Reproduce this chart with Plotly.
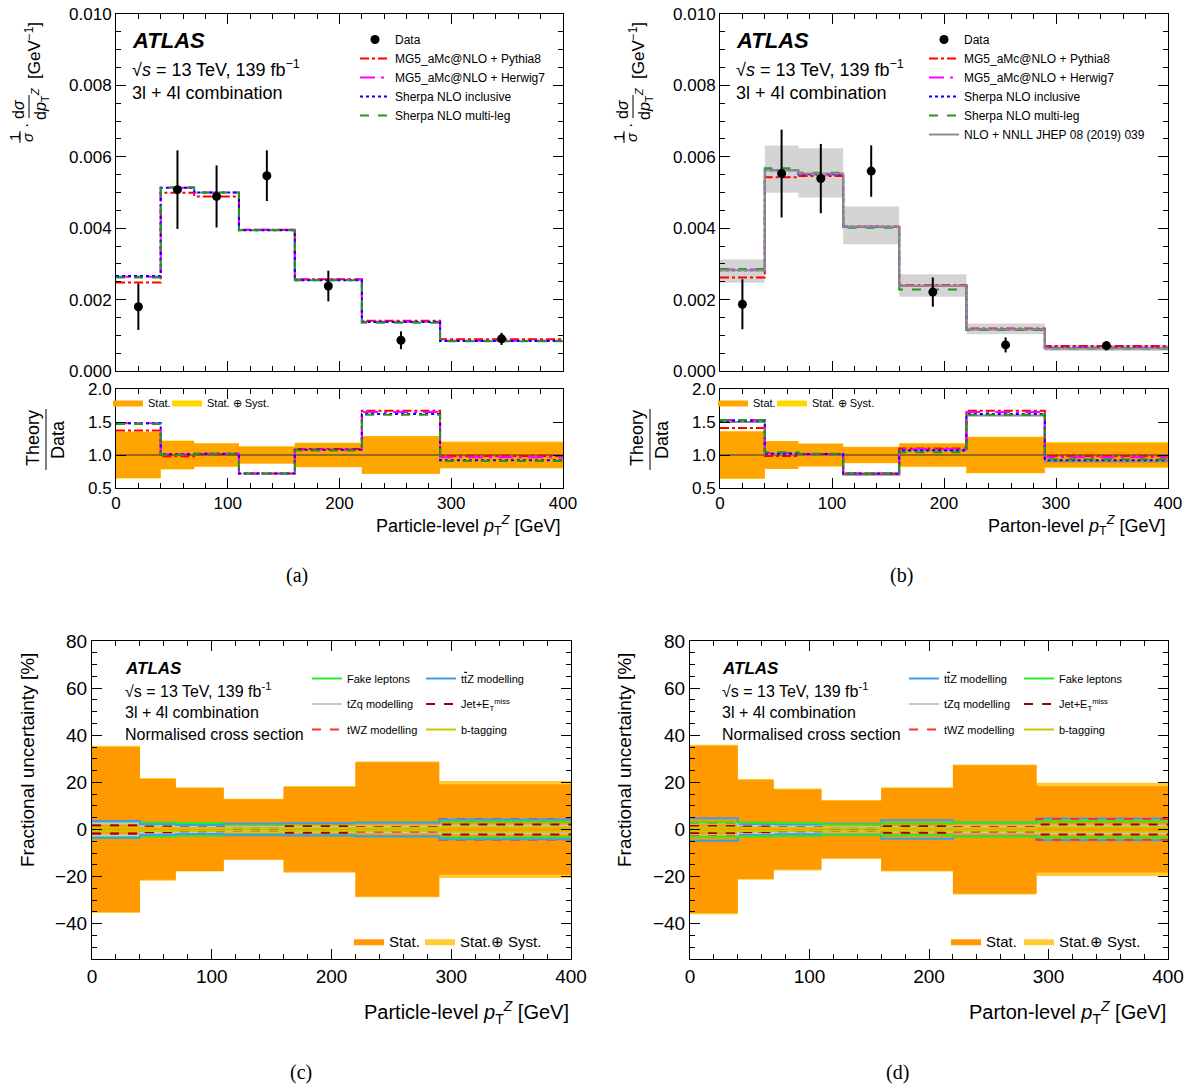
import plotly.graph_objects as go

# the figure fills the whole 1188x1085 page (body margin removed in the page script below)
W, H = 1188, 1085
FONT = "Liberation Sans"

# ---------------- data ----------------
edges = [0, 40, 70, 110, 160, 220, 290, 400]
centers = [20, 55, 90, 135, 190, 255, 345]

# (a) particle level, normalised differential cross-section [GeV^-1]
data_a = [0.00180, 0.00508, 0.00489, 0.00547, 0.00238, 0.00086, 0.00090]
err_a = [0.00065, 0.00110, 0.00087, 0.00071, 0.00043, 0.00025, 0.00017]
py8_a = [0.00248, 0.00499, 0.00489, 0.00396, 0.00257, 0.00141, 0.00089]
hw7_a = [0.00264, 0.00513, 0.00500, 0.00396, 0.00256, 0.00138, 0.00085]
shinc_a = [0.00266, 0.00513, 0.00500, 0.00394, 0.00254, 0.00137, 0.00084]
shml_a = [0.00262, 0.00515, 0.00500, 0.00394, 0.00254, 0.00135, 0.00083]
r_py8_a = [1.37, 0.98, 1.01, 0.72, 1.09, 1.67, 0.985]
r_hw7_a = [1.48, 1.01, 1.02, 0.72, 1.08, 1.65, 0.965]
r_shinc_a = [1.48, 1.01, 1.02, 0.72, 1.08, 1.62, 0.92]
r_shml_a = [1.47, 1.00, 1.02, 0.72, 1.07, 1.61, 0.91]

# (b) parton level
data_b = [0.00187, 0.00553, 0.00539, 0.00560, 0.00221, 0.00073, 0.00071]
err_b = [0.00070, 0.00123, 0.00097, 0.00072, 0.00041, 0.00021, 0.00013]
py8_b = [0.00262, 0.00543, 0.00546, 0.00404, 0.00240, 0.00119, 0.00070]
hw7_b = [0.00284, 0.00562, 0.00551, 0.00404, 0.00239, 0.00117, 0.00066]
shinc_b = [0.00282, 0.00562, 0.00551, 0.00404, 0.00238, 0.00117, 0.00065]
shml_b = [0.00286, 0.00568, 0.00555, 0.00401, 0.00228, 0.00115, 0.00063]
nnll_b = [0.00282, 0.00562, 0.00553, 0.00404, 0.00238, 0.00117, 0.00063]
nnll_up_b = [0.00312, 0.00632, 0.00624, 0.00461, 0.00271, 0.00133, 0.00073]
nnll_dn_b = [0.00247, 0.00499, 0.00486, 0.00355, 0.00208, 0.00103, 0.00056]
r_py8_b = [1.41, 0.985, 1.015, 0.72, 1.10, 1.67, 0.985]
r_hw7_b = [1.53, 1.03, 1.015, 0.72, 1.09, 1.65, 0.965]
r_shinc_b = [1.52, 1.02, 1.015, 0.72, 1.07, 1.62, 0.92]
r_shml_b = [1.53, 1.04, 1.02, 0.72, 1.04, 1.61, 0.935]
r_nnll_b = [1.50, 1.015, 1.01, 0.70, 1.075, 1.60, 0.90]

# (c) particle level fractional uncertainties [%]
stat_c = [35.0, 21.4, 17.6, 12.8, 18.0, 28.5, 19.2]
tot_c = [35.5, 21.8, 17.9, 13.0, 18.4, 28.8, 20.6]
fake_c = [3.2, 3.0, 2.7, 2.1, 2.5, 3.0, 3.4]
ttz_c = [3.6, 2.2, 1.9, 2.5, 2.6, 2.9, 4.2]
tzq_c = [2.5, 1.5, 1.2, 0.9, 1.0, 1.2, 1.6]
jet_c = [1.6, 1.2, 0.8, 0.4, 1.4, 0.8, 2.1]
twz_c = [1.9, 1.0, 0.6, 0.3, 0.6, 0.9, 4.4]
btag_c = [0.8, 0.7, 0.6, 0.5, 0.6, 0.6, 1.0]

# (d) parton level fractional uncertainties [%]
stat_d = [35.5, 21.0, 17.0, 12.2, 17.5, 27.3, 18.3]
tot_d = [36.0, 21.4, 17.4, 12.5, 17.9, 27.6, 19.8]
ttz_d = [4.8, 2.2, 1.9, 2.4, 3.9, 2.9, 4.6]
fake_d = [3.0, 3.0, 2.8, 2.1, 2.5, 3.0, 3.4]
tzq_d = [2.6, 1.5, 1.2, 0.9, 1.0, 1.2, 1.6]
jet_d = [1.5, 1.2, 0.8, 0.4, 1.4, 0.8, 2.1]
twz_d = [2.8, 1.0, 0.6, 0.3, 0.9, 0.9, 4.4]
btag_d = [0.8, 0.7, 0.6, 0.5, 0.6, 0.6, 1.0]

# ---------------- helpers ----------------
def px(x):
    return x / W


def py(y):
    return 1 - y / H


def stepy(vals):
    return list(vals) + [vals[-1]]


fig = go.Figure()


def step_line(vals, xa, ya, color, dash, name=None, legend=None, width=2, rank=None):
    fig.add_trace(go.Scatter(
        x=edges, y=stepy(vals), mode="lines", line=dict(color=color, dash=dash, width=width, shape="hv"),
        xaxis=xa, yaxis=ya, name=name, showlegend=name is not None,
        legend=legend, legendrank=rank if rank else 1000, hoverinfo="skip"))


def band(lo, hi, xa, ya, color, name=None, legend=None, rank=None):
    fig.add_trace(go.Scatter(
        x=edges, y=stepy(lo), mode="lines", line=dict(width=0, shape="hv"),
        xaxis=xa, yaxis=ya, showlegend=False, hoverinfo="skip"))
    fig.add_trace(go.Scatter(
        x=edges, y=stepy(hi), mode="lines", line=dict(width=0, shape="hv"),
        fill="tonexty", fillcolor=color, xaxis=xa, yaxis=ya,
        name=name, showlegend=name is not None, legend=legend,
        legendrank=rank if rank else 1000, hoverinfo="skip"))


C_PY8, C_HW7, C_SHI, C_SHM = "#ff0000", "#ff00ff", "#0000ff", "#1f9a1f"


def top_panel(xm, ym, xr, yr, data, err, py8, hw7, shi, shm, rpy8, rhw7, rshi, rshm,
              stat, tot, leg, leg_stat, leg_tot, nnll=None, nnll_up=None, nnll_dn=None, rnnll=None):
    if nnll is not None:
        band(nnll_dn, nnll_up, xm, ym, "rgba(205,205,205,0.85)")
    step_line(py8, xm, ym, C_PY8, "dashdot", "MG5_aMc@NLO + Pythia8", leg, rank=2)
    step_line(hw7, xm, ym, C_HW7, "longdashdot", "MG5_aMc@NLO + Herwig7", leg, rank=3)
    step_line(shi, xm, ym, C_SHI, "dot", "Sherpa NLO inclusive", leg, rank=4)
    step_line(shm, xm, ym, C_SHM, "dash", "Sherpa NLO multi-leg", leg, rank=5)
    if nnll is not None:
        step_line(nnll, xm, ym, "#8c8c8c", "solid", "NLO + NNLL JHEP 08 (2019) 039", leg, rank=6)
    fig.add_trace(go.Scatter(
        x=centers, y=data, mode="markers", marker=dict(color="black", size=9),
        error_y=dict(type="data", array=err, color="black", thickness=2, width=0),
        xaxis=xm, yaxis=ym, name="Data", legend=leg, legendrank=1, hoverinfo="skip"))
    band([1 - v / 100 for v in tot], [1 + v / 100 for v in tot], xr, yr, "#ffd700",
         "Stat. \u2295 Syst.", leg_tot)
    band([1 - v / 100 for v in stat], [1 + v / 100 for v in stat], xr, yr, "#ffa500",
         "Stat.", leg_stat)
    fig.add_trace(go.Scatter(x=[0, 400], y=[1, 1], mode="lines", line=dict(color="#333333", width=1.2),
                             xaxis=xr, yaxis=yr, showlegend=False, hoverinfo="skip"))
    if rnnll is not None:
        step_line(rnnll, xr, yr, "#8c8c8c", "solid")
    step_line(rpy8, xr, yr, C_PY8, "dashdot")
    step_line(rhw7, xr, yr, C_HW7, "longdashdot")
    step_line(rshi, xr, yr, C_SHI, "dot")
    step_line(rshm, xr, yr, C_SHM, "dash")


top_panel("x", "y", "x2", "y2", data_a, err_a, py8_a, hw7_a, shinc_a, shml_a,
          r_py8_a, r_hw7_a, r_shinc_a, r_shml_a, stat_c, tot_c, "legend", "legend2", "legend3")
top_panel("x3", "y3", "x4", "y4", data_b, err_b, py8_b, hw7_b, shinc_b, shml_b,
          r_py8_b, r_hw7_b, r_shinc_b, r_shml_b, stat_d, tot_d, "legend4", "legend5", "legend6",
          nnll_b, nnll_up_b, nnll_dn_b, r_nnll_b)

SYS_STYLE = {
    "fake": ("#22ee22", "solid", "Fake leptons"),
    "ttz": ("#3d9df0", "solid", "t<span style='text-decoration:overline'>t</span>Z modelling"),
    "tzq": ("#c8c8c8", "solid", "tZq modelling"),
    "jet": ("#a00000", "dash", "Jet+E<sub>T</sub><sup>miss</sup>"),
    "twz": ("#ff3030", "dash", "tWZ modelling"),
    "btag": ("#c8c800", "solid", "b-tagging"),
}


def unc_panel(xa, ya, stat, tot, sys_list, leg_cols, leg_stat, leg_tot):
    band([-v for v in tot], tot, xa, ya, "#ffcc33", "Stat.\u2295 Syst.", leg_tot)
    band([-v for v in stat], stat, xa, ya, "#ff9900", "Stat.", leg_stat)
    for i, (key, vals) in enumerate(sys_list):
        color, dash, label = SYS_STYLE[key]
        legname = leg_cols[0] if i < 3 else leg_cols[1]
        fig.add_trace(go.Scatter(
            x=edges, y=stepy(vals), mode="lines", line=dict(color=color, dash=dash, width=2, shape="hv"),
            xaxis=xa, yaxis=ya, name=label, legend=legname, legendgroup=key + xa,
            legendrank=i + 1, hoverinfo="skip"))
        fig.add_trace(go.Scatter(
            x=edges, y=stepy([-v for v in vals]), mode="lines",
            line=dict(color=color, dash=dash, width=2, shape="hv"),
            xaxis=xa, yaxis=ya, showlegend=False, legendgroup=key + xa, hoverinfo="skip"))


unc_panel("x5", "y5", stat_c, tot_c,
          [("fake", fake_c), ("tzq", tzq_c), ("twz", twz_c), ("ttz", ttz_c), ("jet", jet_c), ("btag", btag_c)],
          ("legend7", "legend8"), "legend9", "legend10")
unc_panel("x6", "y6", stat_d, tot_d,
          [("ttz", ttz_d), ("tzq", tzq_d), ("twz", twz_d), ("fake", fake_d), ("jet", jet_d), ("btag", btag_d)],
          ("legend11", "legend12"), "legend13", "legend14")


def axis(domain, rng, dtick, minor, anchor, size=17, labels=True, fmt=None):
    d = dict(domain=domain, range=rng, dtick=dtick, tick0=0, anchor=anchor, automargin=False,
             ticklabeloverflow="allow",
             showline=True, linecolor="black", linewidth=1, mirror="allticks",
             ticks="inside", ticklen=10, tickwidth=1, tickcolor="black",
             showgrid=False, zeroline=False, showticklabels=labels,
             tickfont=dict(family=FONT, size=size, color="black"), fixedrange=True)
    if minor:
        d["minor"] = dict(dtick=minor, tick0=0, ticks="inside", ticklen=5, tickcolor="black", showgrid=False)
    if fmt:
        d["tickformat"] = fmt
    return d


XA = [px(116), px(563)]
XB = [px(720), px(1168)]
XC = [px(92), px(571)]
XD = [px(690), px(1168)]
YM = [py(371), py(14)]
YR = [py(488), py(389)]
YC = [py(959), py(641)]

fig.update_layout(
    xaxis=axis(XA, [0, 400], 100, 20, "y", labels=False),
    yaxis=axis(YM, [0, 0.010], 0.002, 0.0005, "x", fmt=".3f"),
    xaxis2=axis(XA, [0, 400], 100, 20, "y2"),
    yaxis2=axis(YR, [0.5, 2.0], 0.5, None, "x2", fmt=".1f"),
    xaxis3=axis(XB, [0, 400], 100, 20, "y3", labels=False),
    yaxis3=axis(YM, [0, 0.010], 0.002, 0.0005, "x3", fmt=".3f"),
    xaxis4=axis(XB, [0, 400], 100, 20, "y4"),
    yaxis4=axis(YR, [0.5, 2.0], 0.5, None, "x4", fmt=".1f"),
    xaxis5=axis(XC, [0, 400], 100, 20, "y5", size=19),
    yaxis5=axis(YC, [-55, 80], 20, 5, "x5", size=19),
    xaxis6=axis(XD, [0, 400], 100, 20, "y6", size=19),
    yaxis6=axis(YC, [-55, 80], 20, 5, "x6", size=19),
)


def legend(x, y, size, gap=0, order="normal"):
    return dict(x=px(x), y=py(y), xanchor="left", yanchor="top", orientation="v",
                bgcolor="rgba(0,0,0,0)", borderwidth=0, tracegroupgap=gap, traceorder=order,
                font=dict(family=FONT, size=size, color="black"), itemclick=False, itemdoubleclick=False)


fig.update_layout(
    showlegend=True,
    legend=legend(355, 25, 12),
    legend2=legend(108, 388, 11),
    legend3=legend(167, 388, 11),
    legend4=legend(924, 25, 12),
    legend5=legend(713, 388, 11),
    legend6=legend(772, 388, 11),
    legend7=legend(307, 664, 11, gap=6.5, order="grouped"),
    legend8=legend(421, 664, 11, gap=6.5, order="grouped"),
    legend9=legend(349, 925, 15),
    legend10=legend(420, 925, 15),
    legend11=legend(904, 664, 11, gap=6.5, order="grouped"),
    legend12=legend(1019, 664, 11, gap=6.5, order="grouped"),
    legend13=legend(946, 925, 15),
    legend14=legend(1019, 925, 15),
)

anns = []


def ann(x, y, text, size, xanchor="left", yanchor="middle", angle=0, family=FONT):
    anns.append(dict(x=px(x), y=py(y), xref="paper", yref="paper", text=text, showarrow=False,
                     xanchor=xanchor, yanchor=yanchor, textangle=angle,
                     font=dict(family=family, size=size, color="black")))


shapes = []


def vbar(x, y0, y1):
    shapes.append(dict(type="line", xref="paper", yref="paper", x0=px(x), x1=px(x), y0=py(y0), y1=py(y1),
                       line=dict(color="black", width=1)))


for dx, lvl in ((0, "Particle"), (604, "Parton")):
    ann(130 + dx, 41, "<b><i>ATLAS</i></b>", 22)
    ann(130 + dx, 68, "\u221A<i>s</i> = 13 TeV, 139 fb<sup>\u22121</sup>", 18)
    ann(130 + dx, 93, "3l + 4l combination", 18)
    ann(33 + dx, 51, "[GeV<sup>\u22121</sup>]", 17, "center", "middle", -90)
    ann(19 + dx, 109, "d<i>\u03c3</i>", 16, "center", "middle", -90)
    ann(40 + dx, 104, "d<i>p</i><sub>T</sub><sup><i>Z</i></sup>", 16, "center", "middle", -90)
    vbar(29 + dx, 95, 118)
    ann(27 + dx, 126, "\u00b7", 16, "center", "middle", -90)
    ann(14 + dx, 137, "1", 15, "center", "middle", -90)
    ann(27 + dx, 137, "<i>\u03c3</i>", 15, "center", "middle", -90)
    vbar(20 + dx, 131, 143)
    ann(33 + dx, 438, "Theory", 18, "center", "middle", -90)
    ann(58 + dx, 440, "Data", 18, "center", "middle", -90)
    vbar(46 + dx, 409, 470)
    ann(563 + dx + (1 if dx else 0), 525, f"{lvl}-level <i>p</i><sub>T</sub><sup><i>Z</i></sup> [GeV]",
        18, "right", "middle")

ann(297, 575, "(a)", 20, "center", "middle", family="Liberation Serif")
ann(901, 575, "(b)", 20, "center", "middle", family="Liberation Serif")
ann(301, 1072, "(c)", 20, "center", "middle", family="Liberation Serif")
ann(898, 1072, "(d)", 20, "center", "middle", family="Liberation Serif")

for x0, xr, lvl in ((123, 571, "Particle"), (720, 1168, "Parton")):
    ann(x0, 668, "<b><i>ATLAS</i></b>", 17)
    ann(x0, 690, "\u221As = 13 TeV, 139 fb<sup>-1</sup>", 16)
    ann(x0, 712, "3l + 4l combination", 16)
    ann(x0, 734, "Normalised cross section", 16)
    ann(xr, 1012, f"{lvl}-level <i>p</i><sub>T</sub><sup><i>Z</i></sup> [GeV]", 20, "right", "middle")
    ann(x0 - 96, 760, "Fractional uncertainty [%]", 19, "center", "middle", -90)

fig.update_layout(annotations=anns, shapes=shapes)
fig.update_layout(width=W, height=H, margin=dict(l=0, r=0, t=0, b=0, autoexpand=False),
                  paper_bgcolor="white", plot_bgcolor="white",
                  font=dict(family=FONT, color="black"))

fig.write_html(
    "out.html",
    config={"displayModeBar": False},
    post_script="document.body.style.margin='0px';document.body.style.padding='0px';"
                "document.documentElement.style.overflow='hidden';",
)
